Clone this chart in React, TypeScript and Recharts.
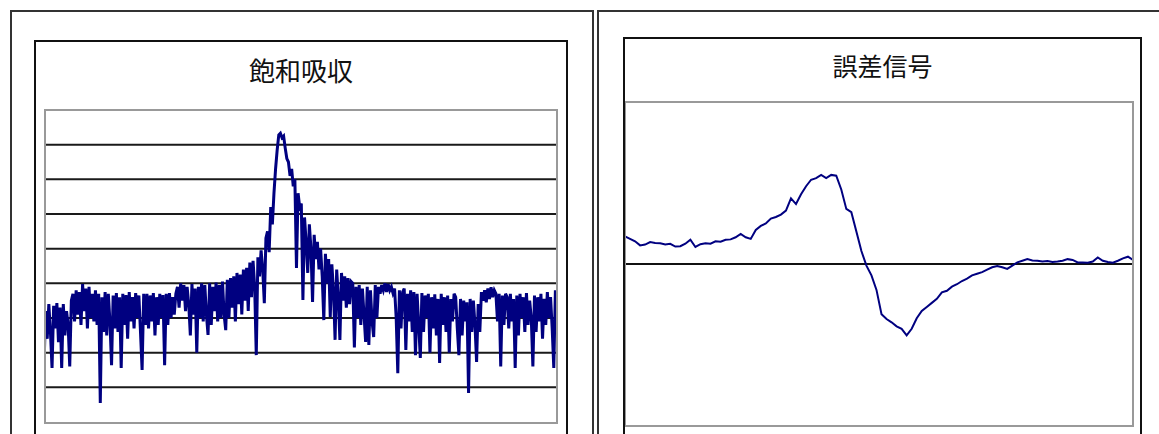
import React from 'react'
import { LineChart, Line, XAxis, YAxis, CartesianGrid } from 'recharts'

// 飽和吸収 signal, read left to right in ten pieces
const absorption0 = [1.64, 3.2, 2.4, 3.4, 2.6, 1.56, 3.35, 2.7, 3.43, 2.3, 3.3, 1.56, 3.4, 2.5, 3.2, 2.8, 1.6, 3.5, 3.7, 2.9, 3.8, 3.1, 3.75, 2.8, 3.98, 3.2, 3.85, 2.7, 3.9, 3.0, 3.7, 2.9]
const absorption1 = [3.8, 2.8, 3.7, 0.55, 3.6, 2.6, 3.75, 2.5, 3.7, 2.9, 1.64, 3.65, 2.7, 3.72, 2.6, 3.6, 1.56, 3.7, 2.8, 3.66, 2.4, 3.75, 2.9, 3.6, 2.7, 3.72, 3.0, 3.65, 2.6, 1.5, 3.7, 2.8]
const absorption2 = [3.7, 2.7, 3.65, 2.9, 3.72, 2.5, 3.6, 2.8, 3.7, 3.0, 3.66, 1.64, 3.7, 2.8, 3.72, 3.0, 3.6, 3.1, 3.7, 3.9, 3.3, 4.0, 3.5, 3.95, 3.2, 3.9, 3.4, 2.5, 3.98, 3.1, 3.85, 2.0]
const absorption3 = [3.9, 3.0, 4.0, 2.9, 3.95, 3.1, 2.51, 4.0, 2.8, 3.9, 3.2, 4.02, 2.9, 3.95, 3.0, 4.05, 3.1, 2.65, 4.1, 3.0, 4.15, 3.3, 4.2, 2.9, 4.3, 3.4, 4.25, 3.1, 4.4, 3.5, 4.45, 3.2]
const absorption4 = [4.6, 3.6, 4.65, 3.9, 1.93, 4.75, 4.2, 4.95, 4.4, 3.43, 5.3, 5.5, 4.9, 6.2, 5.7, 6.6, 7.3, 7.85, 8.28, 8.33, 8.2, 8.25, 7.9, 7.6, 7.5, 7.1, 7.3, 6.8, 7.0, 4.44, 6.6, 6.2]
const absorption5 = [6.3, 3.52, 5.9, 5.2, 4.3, 5.7, 5.0, 3.46, 5.4, 4.7, 5.2, 4.4, 5.0, 4.2, 2.94, 4.85, 4.0, 4.7, 3.03, 4.55, 3.8, 2.37, 4.4, 3.6, 2.37, 4.3, 3.5, 4.2, 3.3, 4.15, 3.4, 4.05]
const absorption6 = [4.0, 2.15, 3.9, 3.0, 3.95, 2.8, 3.85, 3.1, 2.31, 3.9, 2.22, 3.8, 2.9, 2.45, 3.95, 3.0, 3.9, 3.7, 3.95, 3.8, 4.0, 3.75, 3.98, 3.8, 3.9, 3.72, 3.85, 3.0, 1.41, 3.8, 2.7, 3.75]
const absorption7 = [3.85, 2.08, 3.7, 2.9, 3.8, 2.6, 3.75, 1.93, 3.7, 2.8, 1.85, 3.72, 2.6, 3.65, 3.0, 3.7, 2.0, 3.6, 2.7, 3.68, 2.5, 3.55, 1.7, 3.7, 2.8, 3.6, 2.6, 3.65, 2.0, 3.55, 2.9, 3.7]
const absorption8 = [3.6, 2.7, 1.93, 3.55, 2.5, 3.5, 2.9, 3.45, 0.84, 3.55, 2.6, 3.5, 2.8, 1.73, 3.4, 2.6, 3.75, 3.5, 3.8, 3.45, 3.85, 3.55, 3.89, 3.6, 3.8, 3.7, 2.9, 3.7, 1.6, 3.65, 2.8, 3.7]
const absorption9 = [3.6, 2.7, 3.7, 2.9, 3.55, 1.56, 3.65, 2.5, 3.7, 3.0, 3.6, 2.6, 3.72, 2.8, 3.5, 3.0, 1.6, 3.65, 2.6, 3.6, 2.9, 3.7, 2.4, 3.55, 2.8, 3.75, 3.0, 3.6, 2.7, 1.56, 3.8, 2.9]

// 誤差信号 signal, three pieces
const errorLeft = [0.17, 0.155, 0.14, 0.115, 0.12, 0.135, 0.13, 0.128, 0.12, 0.125, 0.108, 0.11, 0.125, 0.15, 0.105, 0.122, 0.128, 0.125, 0.14, 0.138, 0.15, 0.152, 0.165, 0.185, 0.165, 0.155, 0.21, 0.235, 0.25, 0.28, 0.29, 0.305, 0.33, 0.405]
const errorMid = [0.37, 0.43, 0.48, 0.52, 0.53, 0.55, 0.53, 0.55, 0.545, 0.46, 0.34, 0.32, 0.2, 0.08, -0.01, -0.07, -0.16, -0.31, -0.34, -0.36, -0.385, -0.4, -0.44, -0.4, -0.335, -0.29, -0.265, -0.24, -0.215, -0.175, -0.165, -0.14, -0.125, -0.105]
const errorRight = [-0.09, -0.07, -0.06, -0.05, -0.035, -0.02, -0.012, -0.02, -0.03, -0.01, 0.01, 0.02, 0.03, 0.022, 0.02, 0.015, 0.018, 0.012, 0.015, 0.02, 0.03, 0.025, 0.01, 0.01, 0.008, 0.015, 0.04, 0.02, 0.012, 0.008, 0.02, 0.035, 0.045, 0.025]

const absorptionTicks = [1, 2, 3, 4, 5, 6, 7, 8]
const errorTicks = [0]

const absorptionData = [
  ...absorption0, ...absorption1, ...absorption2, ...absorption3, ...absorption4,
  ...absorption5, ...absorption6, ...absorption7, ...absorption8, ...absorption9,
].map((v, i) => ({ i, v }))

const errorData = [...errorLeft, ...errorMid, ...errorRight].map((v, i) => ({ i, v }))

const titleFont = '"Noto Sans CJK JP", "Noto Sans CJK SC", sans-serif'

const box = (left: number, top: number, width: number, height: number, border: string): React.CSSProperties => ({
  position: 'absolute', left, top, width, height, border, boxSizing: 'border-box',
})

export default function App() {
  return (
    <div style={{ position: 'absolute', left: 0, top: 0, width: 1159, height: 434, overflow: 'hidden', background: '#fff' }}>
      {/* left panel */}
      <div style={box(10, 10, 584, 440, '2px solid #333')} />
      <div style={box(34, 40, 534, 410, '2px solid #111')} />
      <div style={{ position: 'absolute', left: 34, top: 57, width: 534, textAlign: 'center', fontFamily: titleFont, fontSize: 26, lineHeight: '26px', color: '#111' }}>
        飽和吸収
      </div>
      <div style={{ position: 'absolute', left: 44, top: 110 }}>
        <LineChart width={513} height={312} data={absorptionData} margin={{ top: 0, right: 0, bottom: 0, left: 0 }}>
          <CartesianGrid vertical={false} horizontalValues={absorptionTicks} stroke="#1a1a1a" strokeWidth={2} />
          <XAxis dataKey="i" type="number" domain={[0, absorptionData.length - 1]} hide />
          <YAxis type="number" domain={[0, 9]} ticks={absorptionTicks} hide />
          <Line type="linear" dataKey="v" stroke="#000080" strokeWidth={3} dot={false} isAnimationActive={false} />
        </LineChart>
      </div>
      <div style={box(44, 109, 514, 315, '2px solid #999')} />

      {/* right panel */}
      <div style={box(597, 10, 600, 440, '2px solid #333')} />
      <div style={{ position: 'absolute', left: 623, top: 52, width: 519, textAlign: 'center', fontFamily: titleFont, fontSize: 25, lineHeight: '26px', color: '#111' }}>
        誤差信号
      </div>
      <div style={{ position: 'absolute', left: 625, top: 102 }}>
        <LineChart width={508} height={324} data={errorData} margin={{ top: 0, right: 0, bottom: 0, left: 0 }}>
          <CartesianGrid vertical={false} horizontalValues={errorTicks} stroke="#111" strokeWidth={2} />
          <XAxis dataKey="i" type="number" domain={[0, errorData.length - 1]} hide />
          <YAxis type="number" domain={[-1, 1]} ticks={errorTicks} hide />
          <Line type="linear" dataKey="v" stroke="#000080" strokeWidth={2} dot={false} isAnimationActive={false} />
        </LineChart>
      </div>
      <div style={box(624, 101, 510, 326, '2px solid #999')} />
      <div style={box(623, 37, 519, 410, '2px solid #111')} />
    </div>
  )
}
